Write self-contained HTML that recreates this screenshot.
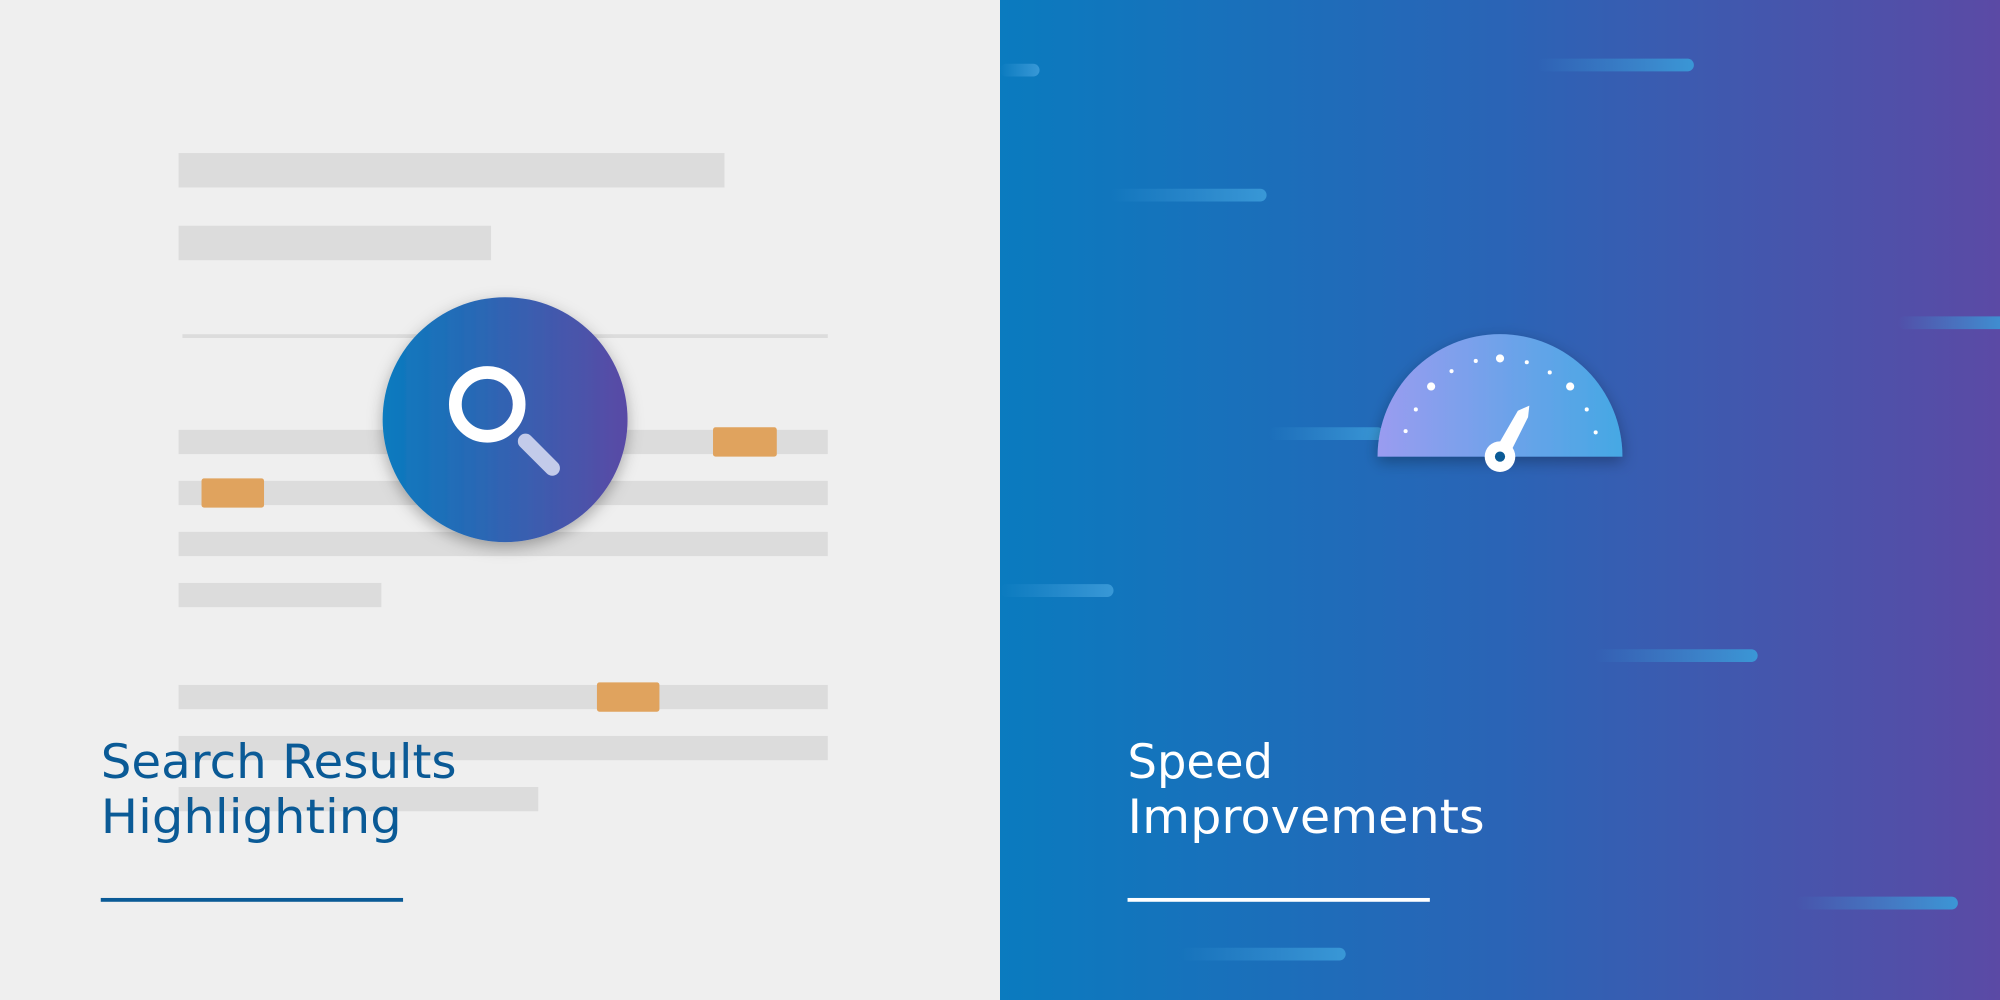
<!DOCTYPE html>
<html><head><meta charset="utf-8"><style>html,body{margin:0;padding:0;overflow:hidden;background:#efefef}svg{display:block}</style></head><body>
<svg width="2000" height="1000" viewBox="0 0 1568 784" xmlns="http://www.w3.org/2000/svg">
<defs>
<linearGradient id="bg" x1="0" x2="1"><stop offset="0" stop-color="#0a7bbf"/><stop offset="0.5" stop-color="#2a64b6"/><stop offset="1" stop-color="#5b4aa5"/></linearGradient>
<linearGradient id="cg" x1="0" x2="1"><stop offset="0" stop-color="#0a7bbf"/><stop offset="1" stop-color="#5a4aa5"/></linearGradient>
<linearGradient id="gg" x1="0" x2="1"><stop offset="0" stop-color="#9a9cf0"/><stop offset="1" stop-color="#45a8e4"/></linearGradient>
<linearGradient id="st" x1="0" x2="1"><stop offset="0" stop-color="#3a9ad8" stop-opacity="0"/><stop offset="1" stop-color="#3a9ad8" stop-opacity="0.95"/></linearGradient>
<filter id="sh" x="-30%" y="-30%" width="160%" height="160%"><feDropShadow dx="0" dy="4" stdDeviation="6" flood-color="#000" flood-opacity="0.3"/></filter>
</defs>
<rect x="0" y="0" width="784" height="784" fill="#efefef"/>
<rect x="784" y="0" width="784" height="784" fill="url(#bg)"/>
<g fill="#dcdcdc">
<rect x="140" y="120" width="428" height="27"/>
<rect x="140" y="177" width="245" height="27"/>
<rect x="143" y="262" width="506" height="3"/>
<rect x="140" y="337" width="509" height="19"/>
<rect x="140" y="377" width="509" height="19"/>
<rect x="140" y="417" width="509" height="19"/>
<rect x="140" y="457" width="159" height="19"/>
<rect x="140" y="537" width="509" height="19"/>
<rect x="140" y="577" width="509" height="19"/>
<rect x="140" y="617" width="282" height="19"/>
</g>
<g fill="#e0a35e">
<rect x="559" y="335" width="50" height="23" rx="2"/>
<rect x="158" y="375" width="49" height="23" rx="2"/>
<rect x="468" y="535" width="49" height="23" rx="2"/>
</g>
<circle cx="396" cy="329" r="96" fill="url(#cg)" filter="url(#sh)"/>
<circle cx="382" cy="317" r="25" fill="none" stroke="#fff" stroke-width="10"/>
<line x1="412" y1="346" x2="433" y2="367" stroke="#c3cbea" stroke-width="12" stroke-linecap="round"/>
<g font-family="'DejaVu Sans','Liberation Sans',sans-serif" font-size="37">
<text x="79" y="610" fill="#0a5a96" textLength="279" lengthAdjust="spacingAndGlyphs">Search Results</text>
<text x="79" y="653" fill="#0a5a96" textLength="236" lengthAdjust="spacingAndGlyphs">Highlighting</text>
<text x="884" y="610" fill="#fff" textLength="114" lengthAdjust="spacingAndGlyphs">Speed</text>
<text x="884" y="653" fill="#fff" textLength="280" lengthAdjust="spacingAndGlyphs">Improvements</text>
</g>
<rect x="79" y="704" width="237" height="3" fill="#0a5a96"/>
<rect x="884" y="704" width="237" height="3" fill="#fff"/>
<g fill="url(#st)">
<rect x="784" y="50" width="31" height="10" rx="5"/>
<rect x="1205" y="46" width="123" height="10" rx="5"/>
<rect x="870" y="148" width="123" height="10" rx="5"/>
<rect x="1488" y="248" width="90" height="10" rx="5"/>
<rect x="995" y="335" width="90" height="10" rx="5"/>
<rect x="784" y="458" width="89" height="10" rx="5"/>
<rect x="1250" y="509" width="128" height="10" rx="5"/>
<rect x="1408" y="703" width="127" height="10" rx="5"/>
<rect x="925" y="743" width="130" height="10" rx="5"/>
</g>
<path d="M1080 358 A96 96 0 0 1 1272 358 Z" fill="url(#gg)" filter="url(#sh)"/>
<g fill="#fff">
<circle cx="1176" cy="281" r="3.2"/><circle cx="1122" cy="303" r="3.2"/><circle cx="1231" cy="303" r="3.2"/>
<circle cx="1102" cy="338" r="1.6"/><circle cx="1110" cy="321" r="1.6"/><circle cx="1138" cy="291" r="1.6"/><circle cx="1157" cy="283" r="1.6"/>
<circle cx="1197" cy="284" r="1.6"/><circle cx="1215" cy="292" r="1.6"/><circle cx="1244" cy="321" r="1.6"/><circle cx="1251" cy="339" r="1.6"/>
<path d="M1171 355 L1190 322 L1199 318 L1198 327 L1182 359 Z"/>
<circle cx="1176" cy="358" r="12"/>
</g>
<circle cx="1176" cy="358" r="4" fill="#0a5a96"/>
</svg>
</body></html>
